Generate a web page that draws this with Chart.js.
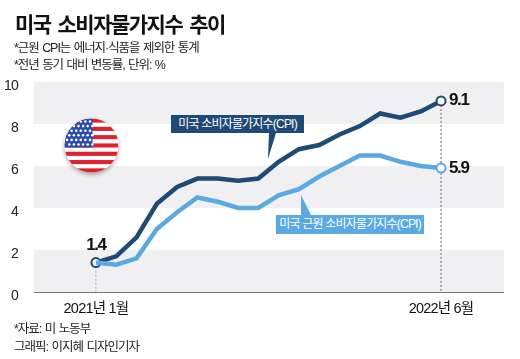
<!DOCTYPE html>
<html lang="ko">
<head>
<meta charset="utf-8">
<title>미국 소비자물가지수 추이</title>
<script src="https://cdn.jsdelivr.net/npm/chart.js@4"></script>
<style>
    html, body { margin: 0; padding: 0; background: #fff; }
    body { position: relative; width: 520px; height: 359px; overflow: hidden; font-family: "Liberation Sans", "Noto Sans CJK KR", sans-serif; color: #111; }
    #cpiChart { position: absolute; left: 0; top: 0; }
    .txt { position: absolute; white-space: nowrap; line-height: 1; }
    .title { left: 15px; top: 13px; font-size: 21px; font-weight: 700; letter-spacing: -1.5px; word-spacing: 2.5px; font-family: "Noto Sans CJK KR", sans-serif; }
    .note { left: 14px; font-size: 12.5px; letter-spacing: -1.05px; word-spacing: 1px; color: #222; }
    .credit { letter-spacing: -1px; }
    .tag { color: #fff; font-size: 12px; letter-spacing: -0.8px; text-align: center; line-height: 18px; }
    .tag.dark { left: 171px; top: 115px; width: 133px; height: 18px; background: #1f4a75; }
    .tag.light { left: 276px; top: 215px; width: 148px; height: 19px; line-height: 19px; background: #5aa9e3; }
    .tail { position: absolute; }
    .tail.dark { left: 267px; top: 133px; width: 9px; height: 26px; background: #1f4a75; clip-path: polygon(1px 100%, 2px 0, 100% 0); }
    .tail.light { left: 301px; top: 195px; width: 10px; height: 20px; background: #5aa9e3; clip-path: polygon(0 0, 0 100%, 100% 100%); }
</style>
</head>
<body>
<canvas id="cpiChart" width="520" height="359"></canvas>

<div class="txt title">미국 소비자물가지수 추이</div>
<div class="txt note" style="top:42px">*근원 CPI는 에너지·식품을 제외한 통계</div>
<div class="txt note" style="top:59px">*전년 동기 대비 변동률, 단위: %</div>

<div class="tail dark"></div>
<div class="txt tag dark">미국 소비자물가지수(CPI)</div>
<div class="tail light"></div>
<div class="txt tag light">미국 근원 소비자물가지수(CPI)</div>

<div class="txt note credit" style="top:323px">*자료: 미 노동부</div>
<div class="txt note credit" style="top:341px">그래픽: 이지혜 디자인기자</div>

<script>
const months = ['2021년 1월', '2', '3', '4', '5', '6', '7', '8', '9', '10', '11', '12', '2022년 1월', '2', '3', '4', '5', '2022년 6월'];
const cpiValues = [1.4, 1.7, 2.6, 4.2, 5.0, 5.4, 5.4, 5.3, 5.4, 6.2, 6.8, 7.0, 7.5, 7.9, 8.5, 8.3, 8.6, 9.1];
const coreValues = [1.4, 1.3, 1.6, 3.0, 3.8, 4.5, 4.3, 4.0, 4.0, 4.6, 4.9, 5.5, 6.0, 6.5, 6.5, 6.2, 6.0, 5.9];
const yTicks = [0, 2, 4, 6, 8, 10];
const shownMonths = [0, 17];

const DARK = '#1f4a75';
const LIGHT = '#5aa9e3';
const BAND = '#f0f0f2';
const FONT = '"Liberation Sans", "Noto Sans CJK KR", sans-serif';

// 회색 띠 + 점선
const backdrop = {
    id: 'backdrop',
    beforeDraw(chart) {
        // 원본 숫자가 좁아서 자간을 줄임
        chart.ctx.letterSpacing = '-0.8px';
    },
    beforeDatasetsDraw(chart) {
        const { ctx, chartArea, scales: { x, y } } = chart;
        ctx.save();
        ctx.fillStyle = BAND;
        for (let i = 0; i < yTicks.length - 1; i += 2) {
            const top = y.getPixelForValue(yTicks[i + 1]);
            const bottom = y.getPixelForValue(yTicks[i]);
            ctx.fillRect(chartArea.left, top, chartArea.right - chartArea.left, bottom - top);
        }
        ctx.strokeStyle = '#777';
        ctx.lineWidth = 1;
        ctx.beginPath();
        ctx.moveTo(chartArea.left, y.getPixelForValue(0) + 0.5);
        ctx.lineTo(chartArea.right, y.getPixelForValue(0) + 0.5);
        ctx.stroke();

        ctx.setLineDash([2, 2]);
        ctx.strokeStyle = '#aaa';
        ctx.beginPath();
        ctx.moveTo(x.getPixelForValue(0), y.getPixelForValue(cpiValues[0]));
        ctx.lineTo(x.getPixelForValue(0), y.getPixelForValue(0));
        ctx.stroke();
        ctx.strokeStyle = '#666';
        ctx.beginPath();
        ctx.moveTo(x.getPixelForValue(17), y.getPixelForValue(cpiValues[17]));
        ctx.lineTo(x.getPixelForValue(17), y.getPixelForValue(0));
        ctx.stroke();
        ctx.restore();
    }
};

// 값 라벨
const valueLabels = {
    id: 'valueLabels',
    afterDatasetsDraw(chart) {
        const { ctx, scales: { x, y } } = chart;
        ctx.save();
        ctx.fillStyle = '#111';
        ctx.font = 'bold 17px ' + FONT;
        ctx.letterSpacing = '-1.4px';
        ctx.textBaseline = 'middle';
        ctx.textAlign = 'center';
        ctx.fillText(cpiValues[0].toFixed(1), x.getPixelForValue(0), y.getPixelForValue(cpiValues[0]) - 17);
        ctx.textAlign = 'left';
        ctx.fillText(cpiValues[17].toFixed(1), x.getPixelForValue(17) + 8, y.getPixelForValue(cpiValues[17]) - 1);
        ctx.fillText(coreValues[17].toFixed(1), x.getPixelForValue(17) + 8, y.getPixelForValue(coreValues[17]));
        ctx.restore();
    }
};

// 성조기 아이콘
const flag = {
    id: 'flag',
    afterDraw(chart) {
        const ctx = chart.ctx;
        const cx = 91.5, cy = 145.5, r = 27;
        ctx.save();
        ctx.save();
        ctx.shadowColor = 'rgba(0,0,0,0.35)';
        ctx.shadowBlur = 4;
        ctx.shadowOffsetY = 2;
        ctx.fillStyle = '#fff';
        ctx.beginPath();
        ctx.arc(cx, cy, r, 0, Math.PI * 2);
        ctx.fill();
        ctx.restore();

        ctx.beginPath();
        ctx.arc(cx, cy, r, 0, Math.PI * 2);
        ctx.clip();
        const stripe = (r * 2) / 13;
        for (let i = 0; i < 13; i++) {
            ctx.fillStyle = i % 2 === 0 ? '#e0202e' : '#ffffff';
            ctx.fillRect(cx - r, cy - r + i * stripe, r * 2, stripe + 0.3);
        }
        ctx.fillStyle = '#2b4aa8';
        ctx.fillRect(cx - r, cy - r, 28, stripe * 7);
        ctx.fillStyle = '#fff';
        for (let row = 0; row < 7; row++) {
            for (let col = 0; col < 6; col++) {
                const sx = cx - r + 2.5 + col * 4.6 + (row % 2 ? 2.3 : 0);
                const sy = cy - r + 3 + row * 4.6;
                ctx.beginPath();
                ctx.arc(sx, sy, 1.3, 0, Math.PI * 2);
                ctx.fill();
            }
        }
        ctx.restore();
    }
};

const cpiCtx = document.getElementById('cpiChart').getContext('2d');
const cpiChart = new Chart(cpiCtx, {
    type: 'line',
    data: {
        datasets: [{
            label: '미국 근원 소비자물가지수(CPI)',
            data: coreValues.map((v, i) => ({ x: i, y: v })),
            borderColor: LIGHT,
            borderWidth: 4.5,
            tension: 0,
            pointBackgroundColor: '#fff',
            pointBorderColor: LIGHT,
            pointBorderWidth: 2,
            pointRadius: coreValues.map((v, i) => (i === 17 ? 4.5 : 0))
        }, {
            label: '미국 소비자물가지수(CPI)',
            data: cpiValues.map((v, i) => ({ x: i, y: v })),
            borderColor: DARK,
            borderWidth: 4.5,
            tension: 0,
            pointBackgroundColor: '#fff',
            pointBorderColor: DARK,
            pointBorderWidth: 2,
            pointRadius: cpiValues.map((v, i) => (shownMonths.includes(i) ? 4.5 : 0))
        }]
    },
    options: {
        responsive: false,
        animation: false,
        layout: { padding: { top: 82, right: 16, bottom: 37, left: 0 } },
        plugins: { legend: { display: false }, tooltip: { enabled: false } },
        scales: {
            x: {
                type: 'linear',
                min: -3.05,
                max: 20.1,
                grid: { display: false },
                border: { display: false },
                afterFit(scale) { scale.height = 30; },
                afterBuildTicks(scale) { scale.ticks = shownMonths.map(i => ({ value: i })); },
                ticks: {
                    autoSkip: false,
                    maxRotation: 0,
                    padding: 0,
                    color: '#111',
                    font: { family: FONT, size: 14.5 },
                    callback: value => months[value]
                }
            },
            y: {
                min: 0,
                max: 10,
                grid: { display: false },
                border: { display: false },
                afterFit(scale) { scale.width = 34; },
                afterBuildTicks(scale) { scale.ticks = yTicks.map(v => ({ value: v })); },
                ticks: {
                    padding: 8,
                    labelOffset: 4,
                    color: '#222',
                    font: { family: FONT, size: 14 }
                }
            }
        }
    },
    plugins: [backdrop, valueLabels, flag]
});
</script>
</body>
</html>
